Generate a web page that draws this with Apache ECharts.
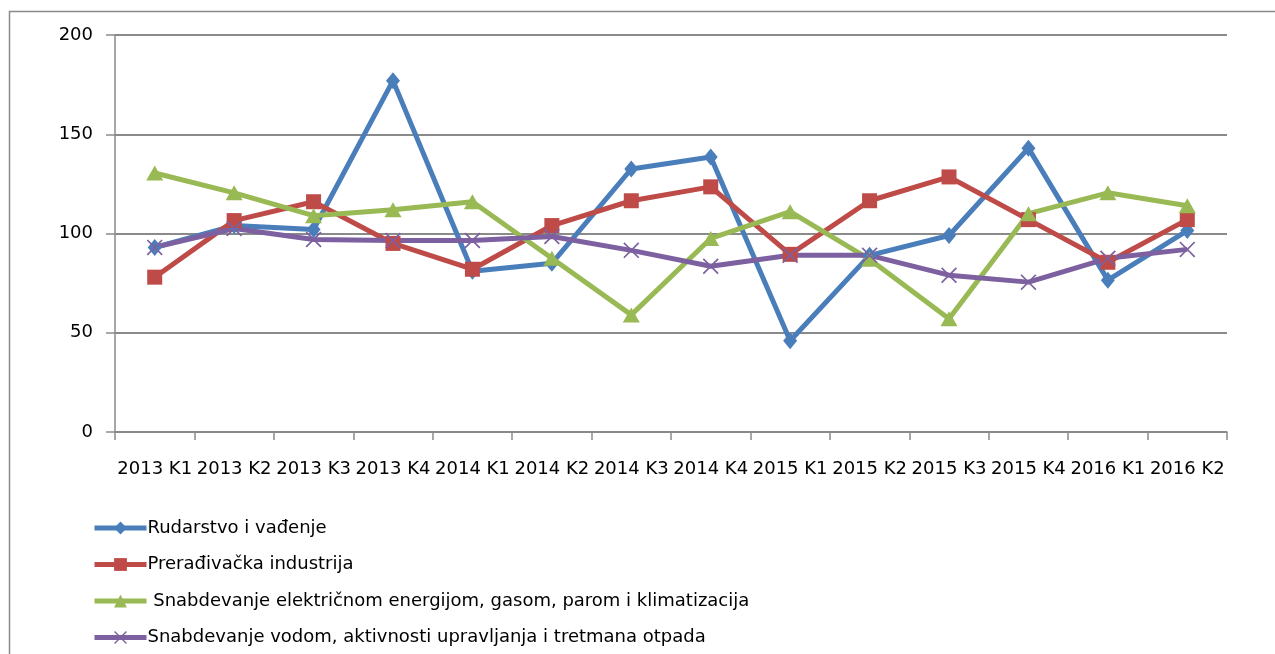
<!DOCTYPE html>
<html>
<head>
<meta charset="utf-8">
<script src="https://cdn.jsdelivr.net/npm/echarts@6/dist/echarts.min.js"></script>
<style>
  html, body { margin: 0; padding: 0; background: #fff; }
  #chart { width: 1275px; height: 654px; }
</style>
</head>
<body>
<div id="chart"></div>
<script>
// kvartali
var categories = ['2013 K1', '2013 K2', '2013 K3', '2013 K4', '2014 K1', '2014 K2', '2014 K3',
  '2014 K4', '2015 K1', '2015 K2', '2015 K3', '2015 K4', '2016 K1', '2016 K2'];

var yTicks = [0, 50, 100, 150, 200];

var rudarstvo = [93, 104, 102, 177, 81, 85, 132.5, 138.5, 46, 89, 99, 143, 76.5, 101.5];
var preradjivacka = [78, 106.5, 116, 95, 82, 104, 116.5, 123.5, 89.5, 116.5, 128.5, 107, 85.5, 107];
var energija = [130.5, 120.5, 109, 112, 116, 87.5, 59, 97.5, 111, 87, 57, 110, 120.5, 114];
var voda = [93, 102.5, 97, 96.5, 96.5, 98.5, 91.5, 83.5, 89, 89, 79, 75.5, 87.5, 92];

var names = ['Rudarstvo i vađenje', 'Prerađivačka industrija',
  ' Snabdevanje električnom energijom, gasom, parom i klimatizacija',
  'Snabdevanje vodom, aktivnosti upravljanja i tretmana otpada'];

var font = 'DejaVu Sans';
var gray = '#8a8a8a';
// simbol "x" za cetvrtu seriju
var crossPath = 'path://M0,1.5 L1.5,0 L10,8.5 L18.5,0 L20,1.5 L11.5,10 L20,18.5 L18.5,20 L10,11.5 L1.5,20 L0,18.5 L8.5,10 Z';

function makeSeries(name, data, color, symbol, size) {
  return {
    name: name,
    type: 'line',
    data: data,
    symbol: symbol,
    symbolSize: size,
    showAllSymbol: true,
    color: color,
    lineStyle: { width: 5, color: color },
    itemStyle: { color: color, borderWidth: 0 },
    emphasis: { disabled: true },
    animation: false
  };
}

var myChart = echarts.init(document.getElementById('chart'));
myChart.setOption({
  backgroundColor: '#fff',
  animation: false,
  graphic: [{
    type: 'rect',
    shape: { x: 9.5, y: 11.5, width: 1300, height: 700 },
    style: { fill: 'none', stroke: gray, lineWidth: 1.5 },
    silent: true
  }],
  grid: { left: 115, right: 48, top: 35, bottom: 222 },
  legend: {
    orient: 'vertical',
    left: 92,
    top: 518,
    padding: 0,
    itemWidth: 52,
    itemHeight: 16,
    itemGap: 16.5,
    lineStyle: { width: 5 },
    textStyle: { fontFamily: font, fontSize: 18, color: '#000', lineHeight: 20, padding: [0, 0, 0, -4] },
    data: names
  },
  xAxis: {
    type: 'category',
    boundaryGap: true,
    data: categories,
    axisLine: { lineStyle: { color: gray, width: 1.5 } },
    axisTick: { show: true, length: 8, alignWithLabel: false, lineStyle: { color: gray, width: 1.5 } },
    axisLabel: { interval: 0, margin: 28, fontFamily: font, fontSize: 18, color: '#000' },
    splitLine: { show: false }
  },
  yAxis: {
    type: 'value',
    min: yTicks[0],
    max: yTicks[yTicks.length - 1],
    interval: yTicks[1] - yTicks[0],
    axisLine: { show: true, lineStyle: { color: gray, width: 1.5 } },
    axisTick: { show: true, length: 9, lineStyle: { color: gray, width: 1.5 } },
    axisLabel: { margin: 22, fontFamily: font, fontSize: 18, color: '#000' },
    splitLine: { show: true, lineStyle: { color: gray, width: 2 } }
  },
  series: [
    makeSeries(names[0], rudarstvo, '#4a7ebb', 'diamond', [14, 17]),
    makeSeries(names[1], preradjivacka, '#be4b48', 'rect', 15),
    makeSeries(names[2], energija, '#98b954', 'triangle', [17, 15]),
    makeSeries(names[3], voda, '#7d60a0', crossPath, 16)
  ]
});
</script>
</body>
</html>
